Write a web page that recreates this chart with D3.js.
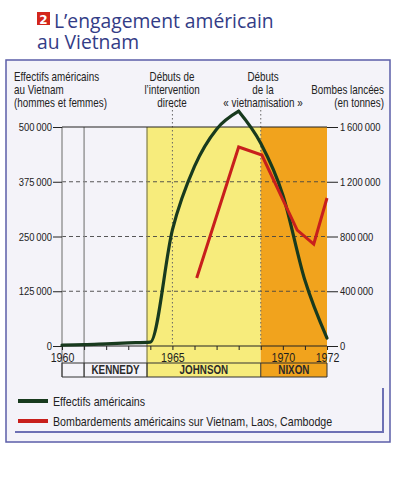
<!DOCTYPE html>
<html>
<head>
<meta charset="utf-8">
<script src="https://cdn.jsdelivr.net/npm/d3@7"></script>
<style>
  body { margin: 0; background: #fff; }
  svg { display: block; }
  .narrow { font-family: "Liberation Sans", Arial, sans-serif; }
</style>
</head>
<body>
<div id="chart"></div>
<script>
// years with troop counts
const troopYears = [1960, 1961, 1962, 1963, 1964, 1965, 1966, 1967, 1968, 1969, 1970, 1971, 1972];
const troopValues = [2000, 3000, 5000, 7000, 9000, 265000, 410000, 495000, 536000, 463000, 345000, 150000, 18000];
const troopPeak = 8; // index of 1968, the curve has a point there

// bombing tonnage, the points sit a little off the year marks
const bombYears = [1966.1, 1968, 1969.05, 1970.65, 1971.4, 1972];
const bombValues = [497000, 1454000, 1395000, 847000, 745000, 1081000];

const leftTicks = [0, 125000, 250000, 375000, 500000];
const rightTicks = [0, 400000, 800000, 1200000, 1600000];
const yearLabels = [1960, 1965, 1970, 1972];

const presidents = ["", "KENNEDY", "JOHNSON", "NIXON"];
const termStart = [1960, 1961, 1963.85, 1969];
const termEnd = [1961, 1963.85, 1969, 1972];

const W = 395, H = 480;
const plot = { left: 62, right: 327, top: 127, bottom: 346 };
const bandTop = 363, bandBottom = 377;
const squeeze = 0.82; // fake a narrow face

const svg = d3.select("#chart").append("svg")
    .attr("width", W)
    .attr("height", H);

const x = d3.scaleLinear().domain([1960, 1972]).range([plot.left, plot.right]);
const yL = d3.scaleLinear().domain([0, 500000]).range([plot.bottom, plot.top]);
const yR = d3.scaleLinear().domain([0, 1600000]).range([plot.bottom, plot.top]);
const fmt = v => d3.format(",")(v).replace(/,/g, "\u2009");

// title
svg.append("rect").attr("x", 37).attr("y", 12).attr("width", 13).attr("height", 13).attr("fill", "#d3261c");
svg.append("text").attr("x", 43.5).attr("y", 23.5).attr("text-anchor", "middle")
    .attr("font-family", "DejaVu Sans").attr("font-weight", "bold").attr("font-size", 12)
    .attr("fill", "#fff").text("2");
const title = svg.append("text").attr("font-family", "Open Sans, sans-serif").attr("font-size", 19.3).attr("fill", "#333c86");
title.append("tspan").attr("x", 54).attr("y", 28).text("L’engagement américain");
title.append("tspan").attr("x", 37).attr("y", 49).text("au Vietnam");

// frame
svg.append("rect").attr("x", 6).attr("y", 60).attr("width", 384).attr("height", 382)
    .attr("fill", "#f4f3f9").attr("stroke", "#5b5ea8").attr("stroke-width", 1.5);
svg.append("path").attr("d", "M15,432H383V388").attr("fill", "none")
    .attr("stroke", "#6d70b4").attr("stroke-width", 2);

// period backgrounds
const periodFill = ["none", "none", "#f7ec7c", "#f1a31d"];
svg.append("g").selectAll("rect").data(presidents).join("rect")
    .attr("x", (d, i) => x(termStart[i]))
    .attr("width", (d, i) => x(termEnd[i]) - x(termStart[i]))
    .attr("y", plot.top)
    .attr("height", bandBottom - plot.top)
    .attr("fill", (d, i) => periodFill[i]);

// grid
svg.append("g").selectAll("line").data(leftTicks.slice(1, -1)).join("line")
    .attr("x1", plot.left).attr("x2", plot.right)
    .attr("y1", d => yL(d)).attr("y2", d => yL(d))
    .attr("stroke", "#444").attr("stroke-dasharray", "4,3").attr("stroke-width", 0.9);

// solid verticals at term boundaries
svg.append("g").selectAll("line").data(termStart.slice(0, 3)).join("line")
    .attr("x1", d => x(d)).attr("x2", d => x(d))
    .attr("y1", plot.top).attr("y2", bandBottom)
    .attr("stroke", (d, i) => i === 2 ? "#8a8650" : "#8a8a8a").attr("stroke-width", 1.3);

// dotted event markers
const events = [1965, 1969];
svg.append("g").selectAll("line").data(events).join("line")
    .attr("x1", d => x(d)).attr("x2", d => x(d))
    .attr("y1", 106).attr("y2", plot.bottom)
    .attr("stroke", "#666").attr("stroke-dasharray", "1.5,2.5").attr("stroke-width", 1);

// top line
svg.append("line").attr("x1", plot.left).attr("x2", plot.right).attr("y1", plot.top).attr("y2", plot.top)
    .attr("stroke", "#222").attr("stroke-width", 1.2);

// axes
const leftAxis = svg.append("g").attr("class", "narrow")
    .attr("transform", `translate(${plot.left},0)`)
    .call(d3.axisLeft(yL).tickValues(leftTicks).tickSize(9).tickPadding(1).tickFormat(fmt));
const rightAxis = svg.append("g").attr("class", "narrow")
    .attr("transform", `translate(${plot.right},0)`)
    .call(d3.axisRight(yR).tickValues(rightTicks).tickSize(11).tickPadding(2).tickFormat(fmt));
const xAxis = svg.append("g").attr("class", "narrow")
    .attr("transform", `translate(0,${plot.bottom})`)
    .call(d3.axisBottom(x).tickValues(troopYears).tickSize(4).tickPadding(3)
        .tickFormat(d => yearLabels.includes(d) ? d : ""));

[leftAxis, rightAxis, xAxis].forEach(a => {
    a.select(".domain").remove();
    a.selectAll("line").attr("stroke", "#222");
    a.selectAll("text").attr("font-family", null).attr("font-size", 11.5).attr("fill", "#222");
});
xAxis.selectAll("text").attr("font-size", 13).attr("fill", "#1e1e1e");
svg.append("line").attr("x1", plot.left).attr("x2", plot.right).attr("y1", plot.bottom).attr("y2", plot.bottom)
    .attr("stroke", "#222").attr("stroke-width", 1.2);

// president band
svg.append("g").selectAll("line").data([bandTop, bandBottom]).join("line")
    .attr("x1", plot.left).attr("x2", plot.right).attr("y1", d => d).attr("y2", d => d)
    .attr("stroke", "#333").attr("stroke-width", 1);
svg.append("g").selectAll("line").data(termStart.concat([1972])).join("line")
    .attr("x1", d => x(d)).attr("x2", d => x(d)).attr("y1", bandTop).attr("y2", bandBottom)
    .attr("stroke", "#333").attr("stroke-width", 1);
svg.append("g").attr("class", "narrow").selectAll("text").data(presidents).join("text")
    .attr("x", (d, i) => (x(termStart[i]) + x(termEnd[i])) / 2)
    .attr("y", bandBottom - 2.5)
    .attr("text-anchor", "middle").attr("font-size", 12).attr("font-weight", "bold")
    .attr("fill", "#2a2a2a").text(d => d);

// series: troops drawn as two smooth halves meeting at the 1968 point
const troopLine = d3.line().x(d => x(d[0])).y(d => yL(d[1])).curve(d3.curveMonotoneX);
const troopPts = troopYears.map((yr, i) => [yr, troopValues[i]]);
[troopPts.slice(0, troopPeak + 1), troopPts.slice(troopPeak)].forEach(part => {
    svg.append("path").attr("d", troopLine(part))
        .attr("fill", "none").attr("stroke", "#183a1e").attr("stroke-width", 3.2)
        .attr("stroke-linejoin", "miter").attr("stroke-linecap", "round");
});
const bombLine = d3.line().x((d, i) => x(bombYears[i])).y(d => yR(d));
svg.append("path").attr("d", bombLine(bombValues))
    .attr("fill", "none").attr("stroke", "#c81f1c").attr("stroke-width", 3)
    .attr("stroke-linejoin", "miter");

// header labels
function block(lines, xPos, y0, anchor) {
    const t = svg.append("text").attr("class", "narrow").attr("font-size", 12)
        .attr("fill", "#222").attr("text-anchor", anchor);
    lines.forEach((l, i) => t.append("tspan").attr("x", xPos).attr("y", y0 + i * 13).text(l));
}
block(["Effectifs américains", "au Vietnam", "(hommes et femmes)"], 14, 81, "start");
block(["Débuts de", "l’intervention", "directe"], 172, 81, "middle");
block(["Débuts", "de la", "« vietnamisation »"], 263, 81, "middle");
block(["Bombes lancées", "(en tonnes)"], 384, 94, "end");

// legend
const legendNames = ["Effectifs américains", "Bombardements américains sur Vietnam, Laos, Cambodge"];
const legendColors = ["#183a1e", "#c81f1c"];
const lg = svg.append("g").selectAll("g").data(legendNames).join("g")
    .attr("transform", (d, i) => `translate(18,${401 + i * 20})`);
lg.append("line").attr("x1", 0).attr("x2", 30).attr("stroke", (d, i) => legendColors[i]).attr("stroke-width", 4);
lg.append("text").attr("class", "narrow").attr("x", 35).attr("y", 5).attr("font-size", 13)
    .attr("fill", "#222").text(d => d);

// squeeze every narrow text horizontally around its own anchor x
svg.selectAll("text.narrow, .narrow text").each(function () {
    const el = d3.select(this);
    const first = this.querySelector("tspan");
    const ax = +((first || this).getAttribute("x")) || 0;
    el.attr("transform", `translate(${ax},0) scale(${squeeze},1) translate(${-ax},0)`);
});
</script>
</body>
</html>
